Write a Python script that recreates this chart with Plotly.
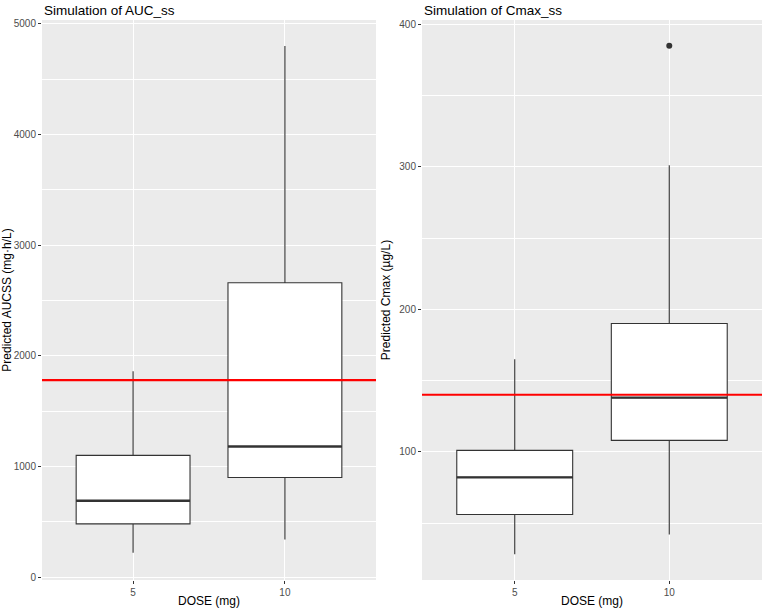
import plotly.graph_objects as go

# ---- data ----
doses = ["5", "10"]
auc_low = [220, 340]
auc_q1 = [480, 900]
auc_med = [690, 1180]
auc_q3 = [1100, 2660]
auc_high = [1860, 4800]
auc_ref = 1780

cmax_low = [28, 42]
cmax_q1 = [56, 108]
cmax_med = [82, 138]
cmax_q3 = [101, 190]
cmax_high = [165, 301]
cmax_out_dose = ["10"]
cmax_out_val = [385]
cmax_ref = 140

W, H = 762, 608
BOXW = 0.75
pos = {d: i + 1 for i, d in enumerate(doses)}

fig = go.Figure()

def add_panel(xa, ya, low, q1, med, q3, high, ref, out_d=None, out_v=None):
    xs = [pos[d] for d in doses]
    for i, x in enumerate(xs):
        fig.add_trace(go.Box(
            x=[x], q1=[q1[i]], median=[med[i]], q3=[q3[i]],
            lowerfence=[low[i]], upperfence=[high[i]],
            width=BOXW, whiskerwidth=0, fillcolor="white",
            line=dict(color="#333333", width=1.1), boxpoints=False,
            xaxis=xa, yaxis=ya, showlegend=False, hoverinfo="skip"))
        fig.add_trace(go.Scatter(
            x=[x - BOXW / 2, x + BOXW / 2], y=[med[i], med[i]], mode="lines",
            line=dict(color="#333333", width=2.4), xaxis=xa, yaxis=ya,
            showlegend=False, hoverinfo="skip"))
    if out_d:
        fig.add_trace(go.Scatter(
            x=[pos[d] for d in out_d], y=out_v, mode="markers",
            marker=dict(color="#333333", size=6), xaxis=xa, yaxis=ya,
            showlegend=False, hoverinfo="skip"))
    fig.add_trace(go.Scatter(
        x=[0.4, 2.6], y=[ref, ref], mode="lines",
        line=dict(color="#FF0000", width=2.2), xaxis=xa, yaxis=ya,
        showlegend=False, hoverinfo="skip"))

add_panel("x", "y", auc_low, auc_q1, auc_med, auc_q3, auc_high, auc_ref)
add_panel("x2", "y2", cmax_low, cmax_q1, cmax_med, cmax_q3, cmax_high, cmax_ref,
          cmax_out_dose, cmax_out_val)

ydom = [(H - 580) / H, (H - 20) / H]
tickfont = dict(family="Liberation Sans, Arial", size=10, color="#4D4D4D")
titlefont = dict(family="Liberation Sans, Arial", size=12, color="black")

xcommon = dict(range=[0.4, 2.6], tickmode="array", tickvals=[1, 2], ticktext=doses,
               showgrid=True, gridcolor="white", gridwidth=1.1, zeroline=False,
               ticks="outside", ticklen=3, tickcolor="#333333", tickwidth=1,
               tickfont=tickfont, showline=False, automargin=False,
               title=dict(text="DOSE (mg)", font=titlefont, standoff=6))
ycommon = dict(showgrid=True, gridcolor="white", gridwidth=1.1, zeroline=False,
               ticks="outside", ticklen=3, tickcolor="#333333", tickwidth=1,
               tickfont=tickfont, showline=False, automargin=False)

fig.update_layout(
    width=W, height=H, margin=dict(l=0, r=0, t=0, b=0),
    paper_bgcolor="white", plot_bgcolor="#EBEBEB",
    xaxis=dict(domain=[42 / W, 376 / W], anchor="y", **xcommon),
    xaxis2=dict(domain=[422 / W, 1.0], anchor="y2", **xcommon),
    yaxis=dict(domain=ydom, anchor="x", range=[-27, 5036],
               tickvals=[0, 1000, 2000, 3000, 4000, 5000],
               minor=dict(dtick=500, tick0=0, showgrid=True, gridcolor="white", gridwidth=0.5, ticklen=0),
               title=dict(text="Predicted AUCSS (mg·h/L)", font=titlefont, standoff=6),
               **ycommon),
    yaxis2=dict(domain=ydom, anchor="x2", range=[10, 403],
                tickvals=[100, 200, 300, 400],
                minor=dict(dtick=50, tick0=0, showgrid=True, gridcolor="white", gridwidth=0.5, ticklen=0),
                title=dict(text="Predicted Cmax (µg/L)", font=titlefont, standoff=6),
                **ycommon),
    annotations=[
        dict(text="Simulation of AUC_ss", x=42 / W, y=1 - 10 / H, xref="paper", yref="paper",
             xanchor="left", yanchor="middle", showarrow=False,
             font=dict(family="Liberation Sans, Arial", size=13.5, color="black")),
        dict(text="Simulation of Cmax_ss", x=422 / W, y=1 - 10 / H, xref="paper", yref="paper",
             xanchor="left", yanchor="middle", showarrow=False,
             font=dict(family="Liberation Sans, Arial", size=13.5, color="black")),
    ],
)

fig.write_html("out.html")
